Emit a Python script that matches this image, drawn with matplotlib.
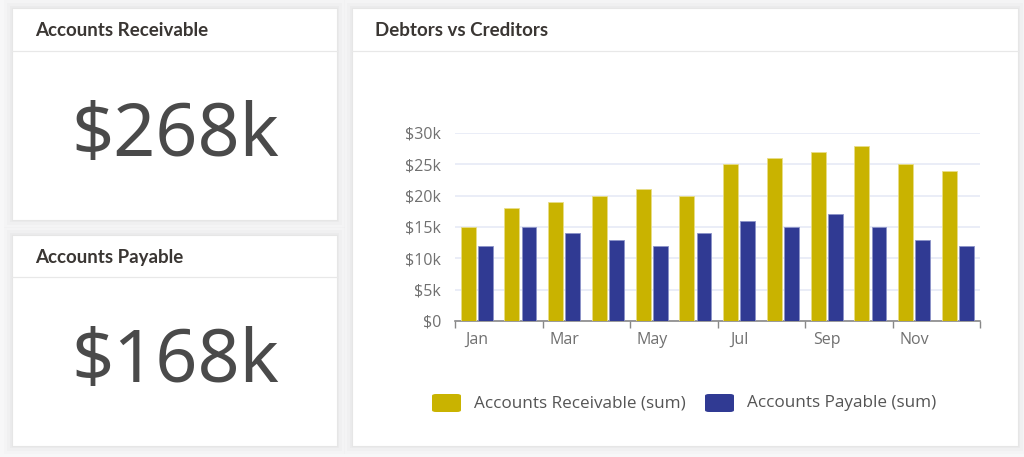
import matplotlib.pyplot as plt
from matplotlib.patches import FancyBboxPatch, Rectangle
import numpy as np

months = ["Jan", "Feb", "Mar", "Apr", "May", "Jun", "Jul", "Aug", "Sep", "Oct", "Nov", "Dec"]
receivable = [15000, 18000, 19000, 20000, 21000, 20000, 25000, 26000, 27000, 28000, 25000, 24000]
payable = [12000, 15000, 14000, 13000, 12000, 14000, 16000, 15000, 17000, 15000, 13000, 12000]
yticks = [0, 5000, 10000, 15000, 20000, 25000, 30000]
ytick_labels = ["$0", "$5k", "$10k", "$15k", "$20k", "$25k", "$30k"]
kpi_titles = ["Accounts Receivable", "Accounts Payable"]
kpi_values = ["$268k", "$168k"]
series_names = ["Accounts Receivable (sum)", "Accounts Payable (sum)"]

gold = "#C9B300"
navy = "#303A93"
W, H = 1024, 457

plt.rcParams['font.family'] = ['Open Sans', 'DejaVu Sans']
fig = plt.figure(figsize=(W / 100, H / 100), dpi=100)
fig.patch.set_facecolor("#F7F7F8")


def px(x, y):
    # pixel coords (top-left origin) -> figure fraction
    return x / W, 1 - y / H


def card(x0, y0, x1, y1, title, header_y):
    # soft shadow
    for i, a in enumerate([0.018, 0.014, 0.01]):
        d = 2 + i * 3
        fx, fy = px(x0 - d, y1 + d)
        fig.patches.append(Rectangle((fx, fy), (x1 - x0 + 2 * d) / W, (y1 - y0 + 2 * d) / H,
                                     transform=fig.transFigure, facecolor="black", alpha=a,
                                     edgecolor="none", zorder=0))
    fx, fy = px(x0, y1)
    fig.patches.append(Rectangle((fx, fy), (x1 - x0) / W, (y1 - y0) / H, transform=fig.transFigure,
                                 facecolor="white", edgecolor="#E6E6E6", linewidth=0.8, zorder=1))
    lx0, ly = px(x0, header_y)
    lx1, _ = px(x1, header_y)
    fig.add_artist(plt.Line2D([lx0, lx1], [ly, ly], transform=fig.transFigure,
                              color="#E8E8E8", linewidth=0.9, zorder=2))
    tx, ty = px(x0 + 23, y0 + 22)
    fig.text(tx, ty, title, fontsize=13.5, fontweight="bold", family=["Lato", "DejaVu Sans"],
             color="#3A3633", va="center", ha="left", zorder=3)


card(12, 8, 337, 220, kpi_titles[0], 51)
card(12, 235, 337, 446, kpi_titles[1], 277)
card(352, 8, 1018, 446, "Debtors vs Creditors", 51)

for val, cy in zip(kpi_values, [137, 363]):
    tx, ty = px(175, cy)
    fig.text(tx, ty, val, fontsize=53, fontweight="light", family=["Noto Sans", "DejaVu Sans"],
             color="#4A4A4A", ha="center", va="center", zorder=3)

# chart
l, t = px(455, 133)
r, b = px(980, 321)
ax = fig.add_axes([l, b, r - l, t - b], zorder=4)
ax.set_facecolor("none")
x = np.arange(len(months))
bw = 0.34
ax.bar(x - 0.2, receivable, width=bw, color=gold, edgecolor="#E8DD88", linewidth=0.6, zorder=3)
ax.bar(x + 0.19, payable, width=bw, color=navy, edgecolor="#8C93C8", linewidth=0.6, zorder=3)

ax.set_xlim(-0.5, 11.5)
ax.set_ylim(0, 30000)
ax.set_yticks(yticks)
ax.set_yticklabels(ytick_labels)
ax.grid(axis="y", color="#E6EAF6", linewidth=1.2, zorder=0)
ax.set_xticks(np.arange(-0.5, 12, 2))
ax.set_xticklabels([])
ax.set_xticks(x[::2], minor=True)
ax.set_xticklabels(months[::2], minor=True)
ax.tick_params(axis="x", which="major", length=5, color="#888888", width=1)
ax.tick_params(axis="x", which="minor", length=0, pad=8, labelsize=11.5, labelcolor="#707070")
ax.tick_params(axis="y", length=0, pad=10, labelsize=11.5, labelcolor="#707070")
for s in ["top", "right", "left"]:
    ax.spines[s].set_visible(False)
ax.spines["bottom"].set_color("#888888")
ax.spines["bottom"].set_linewidth(1.2)

# legend
for name, color, lx, tx in [(series_names[0], gold, 432, 474), (series_names[1], navy, 705, 747)]:
    fx, fy = px(lx, 412)
    fig.patches.append(FancyBboxPatch((fx, fy), 29 / W, 18 / H, transform=fig.transFigure,
                                      boxstyle="round,pad=0,rounding_size=0.004",
                                      facecolor=color, edgecolor="none", zorder=5))
    ttx, tty = px(tx, 403)
    fig.text(ttx, tty, name, fontsize=12.3, color="#555555", ha="left", va="center", zorder=5)

fig.savefig("out.png", dpi=100, facecolor=fig.get_facecolor())
